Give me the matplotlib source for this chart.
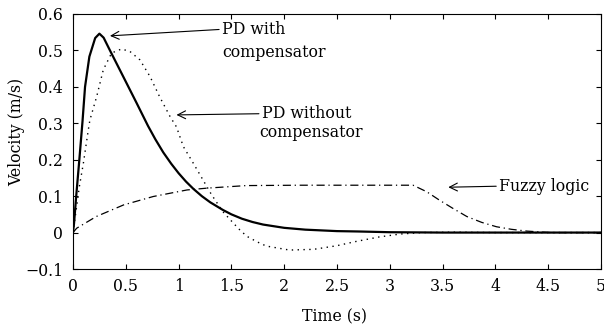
import matplotlib
matplotlib.use("Agg")
import matplotlib.pyplot as plt
from matplotlib.ticker import FuncFormatter, MultipleLocator

# PD with compensator (solid)
t_pd_comp = [0, 0.01, 0.03, 0.06, 0.09, 0.114, 0.155, 0.21, 0.25, 0.29, 0.35,
             0.476, 0.60, 0.71, 0.78, 0.855, 0.93, 1.0, 1.07, 1.14, 1.22, 1.30,
             1.42, 1.5, 1.60, 1.7, 1.80, 2.0, 2.2, 2.5, 2.7, 3.0, 3.5, 4.0, 5.0]
v_pd_comp = [0, 0.026, 0.099, 0.20, 0.305, 0.40, 0.483, 0.534, 0.546, 0.535, 0.50,
             0.428, 0.357, 0.293, 0.256, 0.22, 0.189, 0.163, 0.14, 0.12, 0.10, 0.083,
             0.062, 0.05, 0.038, 0.029, 0.022, 0.013, 0.008, 0.004, 0.003, 0.001,
             0.0, 0.0, 0.0]

# PD without compensator (dotted)
t_pd = [0, 0.03, 0.06, 0.098, 0.145, 0.16, 0.224, 0.287, 0.366, 0.46, 0.54,
        0.634, 0.73, 0.82, 0.92, 0.98, 1.045, 1.14, 1.23, 1.31, 1.42, 1.49,
        1.57, 1.645, 1.74, 1.83, 2.05, 2.28, 2.5, 2.67, 2.9, 3.1, 3.3, 3.6,
        4.0, 5.0]
v_pd = [0, 0.062, 0.126, 0.19, 0.282, 0.309, 0.373, 0.447, 0.493, 0.504, 0.497,
        0.474, 0.428, 0.373, 0.318, 0.29, 0.236, 0.19, 0.145, 0.105, 0.057, 0.035,
        0.01, -0.01, -0.025, -0.037, -0.048, -0.046, -0.036, -0.025, -0.012, -0.004,
        0.0, 0.001, 0.0, 0.0]

# Fuzzy logic (dash-dot)
t_fuzzy = [0, 0.035, 0.22, 0.48, 0.76, 1.08, 1.27, 1.64, 2.15, 2.7, 3.22, 3.35,
           3.47, 3.6, 3.73, 3.87, 4.01, 4.15, 4.3, 4.52, 5.0]
v_fuzzy = [0, 0.012, 0.044, 0.076, 0.099, 0.117, 0.122, 0.129, 0.13, 0.13, 0.13,
           0.112, 0.089, 0.066, 0.044, 0.028, 0.016, 0.009, 0.004, 0.0, 0.0]

plt.rcParams["font.family"] = "DejaVu Serif"
plt.rcParams["font.size"] = 11.3

fig = plt.figure(figsize=(6.04, 3.33), dpi=100)
ax = fig.add_axes([73 / 604, 64 / 333, 528 / 604, 255 / 333])

ax.plot(t_pd_comp, v_pd_comp, color="black", lw=1.6, solid_joinstyle="round")
ax.plot(t_pd, v_pd, color="black", lw=1.0, linestyle=(0, (1, 3.2)))
ax.plot(t_fuzzy, v_fuzzy, color="black", lw=0.9, linestyle=(0, (6.5, 3, 1, 3)))

ax.set_xlim(0, 5)
ax.set_ylim(-0.1, 0.6)
ax.xaxis.set_major_locator(MultipleLocator(0.5))
ax.yaxis.set_major_locator(MultipleLocator(0.1))
fmt = FuncFormatter(lambda v, p: f"{round(v, 3):g}".replace("-", "\u2212"))
ax.xaxis.set_major_formatter(fmt)
ax.yaxis.set_major_formatter(fmt)
ax.tick_params(direction="in", length=3.6, width=0.8, top=True, right=True)
ax.tick_params(axis="y", pad=7)
ax.tick_params(axis="x", pad=6.5)
for s in ax.spines.values():
    s.set_linewidth(0.8)

ax.set_xlabel("Time (s)")
ax.set_ylabel("Velocity (m/s)")
ax.xaxis.set_label_coords(0.496, -0.155)
ax.yaxis.set_label_coords(-0.091, 0.537)

arrow = dict(arrowstyle="->,head_length=0.5,head_width=0.25", color="black",
             lw=0.8, shrinkA=0, shrinkB=0, relpos=(0, 0.5))
ax.annotate("PD with", xy=(0.35, 0.540), xytext=(1.41, 0.5456),
            va="baseline", ha="left", arrowprops=arrow)
ax.text(1.41, 0.483, "compensator", va="baseline", ha="left")
ax.annotate("PD without", xy=(0.98, 0.323), xytext=(1.787, 0.314),
            va="baseline", ha="left", arrowprops=arrow)
ax.text(1.765, 0.262, "compensator", va="baseline", ha="left")
ax.annotate("Fuzzy logic", xy=(3.554, 0.1245), xytext=(4.034, 0.115),
            va="baseline", ha="left", arrowprops=arrow)

fig.savefig("out.png", dpi=100)
